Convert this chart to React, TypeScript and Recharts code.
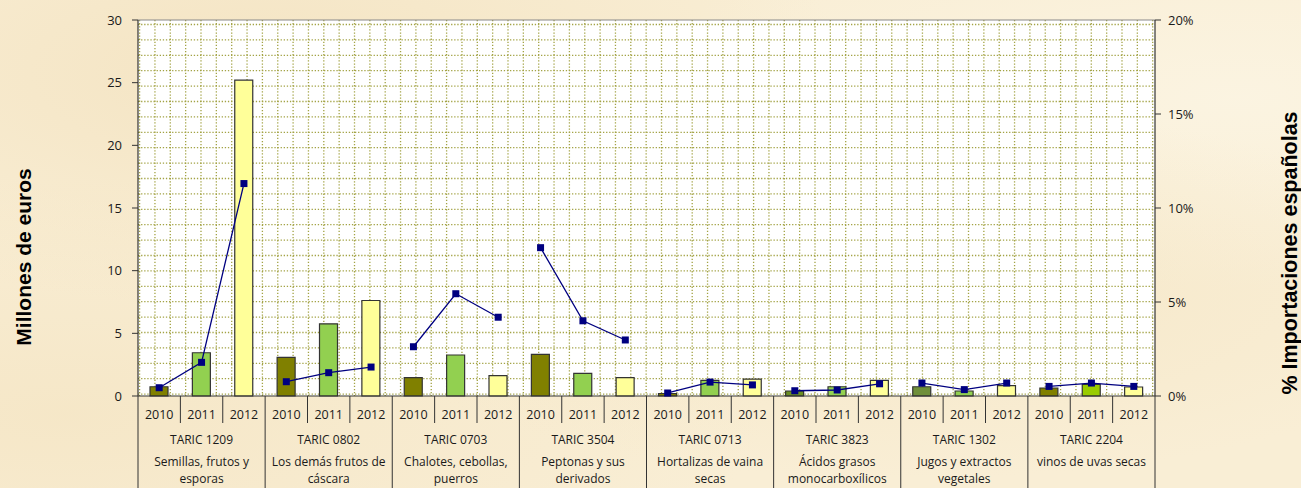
import React from "react";
import {
  ComposedChart,
  Bar,
  Line,
  XAxis,
  YAxis,
  CartesianGrid,
  Cell,
  ReferenceLine,
} from "recharts";

// categories
const years = ["2010", "2011", "2012"];
const taricCodes = [
  "TARIC 1209",
  "TARIC 0802",
  "TARIC 0703",
  "TARIC 3504",
  "TARIC 0713",
  "TARIC 3823",
  "TARIC 1302",
  "TARIC 2204",
];
const descriptions: string[][] = [
  ["Semillas, frutos y", "esporas"],
  ["Los demás frutos de", "cáscara"],
  ["Chalotes, cebollas,", "puerros"],
  ["Peptonas y sus", "derivados"],
  ["Hortalizas de vaina", "secas"],
  ["Ácidos grasos", "monocarboxílicos"],
  ["Jugos y extractos", "vegetales"],
  ["vinos de uvas secas"],
];

// series (one value per year, groups in order above)
const millonesEuros = [
  0.74, 3.45, 25.2,
  3.08, 5.76, 7.62,
  1.46, 3.27, 1.62,
  3.32, 1.81, 1.46,
  0.2, 1.25, 1.35,
  0.4, 0.74, 1.25,
  0.74, 0.4, 0.82,
  0.64, 0.93, 0.72,
];
const importacionesPct = [
  0.44, 1.79, 11.3,
  0.76, 1.24, 1.54,
  2.62, 5.44, 4.19,
  7.89, 4.0, 2.98,
  0.16, 0.74, 0.59,
  0.28, 0.32, 0.65,
  0.69, 0.34, 0.69,
  0.51, 0.69, 0.51,
];

// tick labels
const leftTicks = [0, 5, 10, 15, 20, 25, 30];
const rightTicks = [0, 5, 10, 15, 20];

// one row per category; the % line is split per TARIC group (pct0..pct7)
const data = millonesEuros.map((v, i) => {
  const row: Record<string, any> = { key: i, year: years[i % 3], valor: v };
  taricCodes.forEach((_, g) => {
    row[`pct${g}`] = Math.floor(i / 3) === g ? importacionesPct[i] : null;
  });
  return row;
});

// layout
const W = 1301;
const H = 488;
const PLOT_LEFT = 138;
const PLOT_RIGHT = 1155;
const PLOT_TOP = 20;
const AXIS_Y = 396;
const BAND = (PLOT_RIGHT - PLOT_LEFT) / data.length;

const yearColors = ["#808000", "#92D050", "#FFFF99"];
const colorOverrides: Record<number, string> = {
  15: "#6B8E23",
  18: "#6F8F3A",
  22: "#99CC00",
};

const txt = "#1a1a1a";
const catFont = "'Open Sans', 'Noto Sans', sans-serif";

function CategoryTick(props: any) {
  const { x, payload } = props;
  const i = Number(payload.value);
  const g = Math.floor(i / 3);
  const left = x - BAND / 2;
  return (
    <g>
      <text
        x={x}
        y={418.5}
        textAnchor="middle"
        fontSize={12.5}
        fontFamily={catFont}
        fill={txt}
      >
        {years[i % 3]}
      </text>
      {i % 3 === 0 ? (
        <line x1={left} x2={left} y1={AXIS_Y} y2={H} stroke="#333" strokeWidth={1} />
      ) : (
        <line x1={left} x2={left} y1={AXIS_Y} y2={423} stroke="#333" strokeWidth={1} />
      )}
      {i === data.length - 1 && (
        <line x1={x + BAND / 2} x2={x + BAND / 2} y1={AXIS_Y} y2={H} stroke="#333" strokeWidth={1} />
      )}
      {i % 3 === 1 && (
        <>
          <text x={x} y={444} textAnchor="middle" fontSize={12} fontFamily={catFont} fill={txt}>
            {taricCodes[g]}
          </text>
          {descriptions[g].map((line, k) => (
            <text
              key={k}
              x={x}
              y={466 + k * 16.5}
              textAnchor="middle"
              fontSize={12}
              fontFamily={catFont}
              fill={txt}
            >
              {line}
            </text>
          ))}
        </>
      )}
    </g>
  );
}

function SquareDot(props: any) {
  const { cx, cy, index, value } = props;
  if (cx == null || cy == null || value == null) return <g key={index} />;
  return <rect key={index} x={cx - 3.5} y={cy - 3.5} width={7} height={7} fill="#000080" />;
}

const hGrid = ({ offset }: any) => {
  const out: number[] = [];
  for (let y = offset.top + 4.5; y < offset.top + offset.height - 1; y += 15.4) out.push(y);
  return out;
};
const vGrid = ({ offset }: any) => {
  const out: number[] = [];
  for (let x = offset.left + 1.6; x < offset.left + offset.width - 1; x += 15.35) out.push(x);
  return out;
};

export default function App() {
  return (
    <div
      style={{
        position: "absolute",
        left: 0,
        top: 0,
        width: W,
        height: H,
        overflow: "hidden",
        backgroundColor: "#F9EED5",
        backgroundImage:
          "radial-gradient(ellipse at 20% 15%, rgba(240,220,180,0.55), transparent 40%)," +
          "radial-gradient(ellipse at 70% 60%, rgba(243,226,190,0.5), transparent 45%)," +
          "radial-gradient(ellipse at 95% 20%, rgba(252,246,230,0.7), transparent 35%)," +
          "radial-gradient(ellipse at 5% 85%, rgba(242,224,186,0.5), transparent 40%)",
      }}
    >
      <ComposedChart
        width={W}
        height={H}
        data={data}
        margin={{ top: PLOT_TOP, right: 0, bottom: 0, left: 0 }}
      >
        <CartesianGrid
          fill="#ffffff"
          fillOpacity={1}
          stroke="#a3a345"
          strokeWidth={1.3}
          strokeDasharray="1.3 1.8"
          horizontalCoordinatesGenerator={hGrid}
          verticalCoordinatesGenerator={vGrid}
        />
        <XAxis
          dataKey="key"
          type="category"
          xAxisId="x"
          height={H - AXIS_Y}
          interval={0}
          tickLine={false}
          axisLine={{ stroke: "#333", strokeWidth: 1.2 }}
          tick={<CategoryTick />}
        />
        <YAxis
          yAxisId="left"
          orientation="left"
          width={PLOT_LEFT}
          domain={[0, 30]}
          ticks={leftTicks}
          interval={0}
          tickSize={6}
          tickMargin={10}
          axisLine={{ stroke: "#333", strokeWidth: 1.2 }}
          tickLine={{ stroke: "#333" }}
          tick={{ fill: txt, fontSize: 13, fontFamily: catFont }}
          label={{
            content: () => (
              <text
                x={23}
                y={257}
                transform="rotate(-90 23 257)"
                textAnchor="middle"
                dominantBaseline="central"
                fontFamily="'Liberation Sans', Arial, sans-serif"
                fontWeight="bold"
                fontSize={21}
                fill="#000"
              >
                Millones de euros
              </text>
            ),
          }}
        />
        <YAxis
          yAxisId="right"
          orientation="right"
          width={W - PLOT_RIGHT}
          domain={[0, 20]}
          ticks={rightTicks}
          interval={0}
          tickSize={6}
          tickMargin={7}
          tickFormatter={(v: number) => `${v}%`}
          axisLine={{ stroke: "#333", strokeWidth: 1.2 }}
          tickLine={{ stroke: "#333" }}
          tick={{ fill: txt, fontSize: 13, fontFamily: catFont }}
          label={{
            content: () => (
              <text
                x={1290}
                y={253}
                transform="rotate(-90 1290 253)"
                textAnchor="middle"
                dominantBaseline="central"
                fontFamily="'Liberation Sans', Arial, sans-serif"
                fontWeight="bold"
                fontSize={21.5}
                fill="#000"
              >
                % Importaciones españolas
              </text>
            ),
          }}
        />
        <ReferenceLine yAxisId="left" xAxisId="x" y={30} stroke="#8a8a8a" strokeWidth={1.2} />
        <Bar
          dataKey="valor"
          xAxisId="x"
          yAxisId="left"
          barSize={18}
          stroke="#333"
          strokeWidth={1.2}
          isAnimationActive={false}
        >
          {data.map((_, i) => (
            <Cell key={i} fill={colorOverrides[i] ?? yearColors[i % 3]} />
          ))}
        </Bar>
        {taricCodes.map((code, g) => (
          <Line
            key={code}
            dataKey={`pct${g}`}
            name={code}
            xAxisId="x"
            yAxisId="right"
            type="linear"
            stroke="#000080"
            strokeWidth={1.3}
            connectNulls={false}
            dot={<SquareDot />}
            activeDot={false}
            isAnimationActive={false}
          />
        ))}
      </ComposedChart>
    </div>
  );
}
